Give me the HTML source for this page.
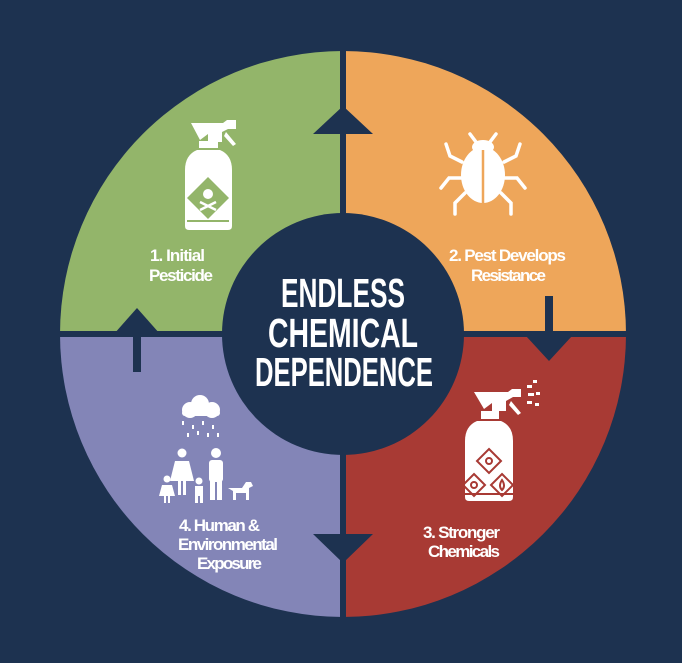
<!DOCTYPE html>
<html><head><meta charset="utf-8"><style>
html,body{margin:0;padding:0;background:#1d3250;}
svg{display:block}
text{font-family:"Liberation Sans Narrow","Liberation Sans",sans-serif;font-weight:bold;fill:#fff;}
</style></head><body>
<svg width="682" height="663" viewBox="0 0 682 663">
<rect width="682" height="663" fill="#1d3250"/>
<path d="M343 334 L343 51 A283 283 0 0 0 60 334 Z" fill="#93b56a"/>
<path d="M343 334 L626 334 A283 283 0 0 0 343 51 Z" fill="#eea65a"/>
<path d="M343 334 L343 617 A283 283 0 0 0 626 334 Z" fill="#a83a34"/>
<path d="M343 334 L60 334 A283 283 0 0 0 343 617 Z" fill="#8385b7"/>
<rect x="340" y="45" width="6" height="580" fill="#1d3250"/>
<rect x="55" y="331" width="575" height="6" fill="#1d3250"/>
<circle cx="343" cy="334" r="121" fill="#1d3250"/>
<polygon points="313,134 373,134 343,106" fill="#1d3250"/>
<polygon points="313,534 373,534 343,563" fill="#1d3250"/>
<polygon points="114,334 160,334 137,308" fill="#1d3250"/>
<rect x="133" y="334" width="8" height="38" fill="#1d3250"/>
<rect x="545" y="296" width="8" height="40" fill="#1d3250"/>
<polygon points="526,336 572,336 549,361" fill="#1d3250"/>
<text x="343" y="307" font-size="41" text-anchor="middle" textLength="124" lengthAdjust="spacingAndGlyphs">ENDLESS</text>
<text x="343" y="347" font-size="41" text-anchor="middle" textLength="150" lengthAdjust="spacingAndGlyphs">CHEMICAL</text>
<text x="344" y="386" font-size="41" text-anchor="middle" textLength="178" lengthAdjust="spacingAndGlyphs">DEPENDENCE</text>
<g font-size="17" lengthAdjust="spacingAndGlyphs">
<text x="150" y="261" textLength="55">1. Initial</text>
<text x="149" y="281" textLength="64">Pesticide</text>
<text x="449" y="261" textLength="117">2. Pest Develops</text>
<text x="471" y="281" textLength="75">Resistance</text>
<text x="423" y="538" textLength="77">3. Stronger</text>
<text x="428" y="557" textLength="72">Chemicals</text>
<text x="179" y="531" textLength="81">4. Human &amp;</text>
<text x="178" y="550" textLength="100">Environmental</text>
<text x="197" y="569" textLength="65">Exposure</text>
</g>
<g fill="#fff">
<path d="M191 123 h32 l4 -3 h9 v9 h-8 l-6 3 v10 h-14 v-8 l-8 6 z"/>
<path d="M226 132 l10 12 l-3 2 l-9 -10 z"/>
<rect x="199" y="141" width="19" height="7"/>
<path d="M197 150 h23 q12 5 12 20 v56 q0 4 -4 4 h-39 q-4 0 -4 -4 v-56 q0 -15 12 -20z"/>
</g>
<polygon points="208,177 229,198 208,219 187,198" fill="#93b56a"/>
<circle cx="208" cy="194" r="5" fill="#fff"/>
<path d="M200 202 l16 8 M216 202 l-16 8" stroke="#fff" stroke-width="2.5"/>
<rect x="187" y="220" width="42" height="2" fill="#93b56a"/>
<g fill="#fff" stroke="#fff">
<ellipse cx="483" cy="175" rx="22" ry="28" stroke="none"/>
<ellipse cx="483" cy="147" rx="11" ry="7" stroke="none"/>
<g stroke-width="3.5" fill="none" stroke-linecap="round">
<path d="M476 142 l-6 -8 M490 142 l6 -8"/>
<path d="M462 162 l-12 -6 l-4 -12 M504 162 l12 -6 l4 -12"/>
<path d="M461 178 h-12 l-8 10 M505 178 h12 l8 10"/>
<path d="M465 193 l-10 10 l0 11 M501 193 l10 10 l0 11"/>
</g>
</g>
<line x1="483" y1="150" x2="483" y2="203" stroke="#eea65a" stroke-width="2.5"/>
<g fill="#fff">
<path d="M474 392 h34 l4 -3 h9 v8 h-8 l-7 4 v10 h-14 v-8 l-8 6 z"/>
<path d="M511 401 l10 12 l-3 2 l-9 -10 z"/>
<rect x="481" y="411" width="18" height="8"/>
<path d="M479 421 h22 q12 5 12 20 v56 q0 4 -4 4 h-40 q-4 0 -4 -4 v-56 q0 -15 12 -20z"/>
<rect x="527" y="385" width="5" height="3"/><rect x="533" y="380" width="4" height="3"/><rect x="528" y="393" width="6" height="3"/><rect x="536" y="392" width="4" height="3"/><rect x="527" y="401" width="5" height="3"/><rect x="535" y="403" width="4" height="3"/>
</g>
<g fill="none" stroke="#a83a34" stroke-width="2">
<polygon points="489,449 501,461 489,473 477,461"/>
<polygon points="474,474 485,485 474,496 463,485"/>
<polygon points="502,474 513,485 502,496 491,485"/>
<circle cx="489" cy="461" r="3"/><circle cx="474" cy="485" r="3"/><path d="M502 490 q-4 -4 0 -10 q4 6 0 10z"/>
</g>
<rect x="465" y="493" width="48" height="2" fill="#a83a34"/>
<g fill="#fff">
<circle cx="190" cy="410" r="8"/><circle cx="200" cy="404" r="9"/><circle cx="212" cy="410" r="8"/><rect x="182" y="410" width="38" height="6" rx="3"/>
<rect x="182" y="421" width="2" height="4"/><rect x="192" y="425" width="2" height="4"/><rect x="202" y="421" width="2" height="4"/><rect x="212" y="425" width="2" height="4"/><rect x="197" y="431" width="2" height="4"/><rect x="207" y="433" width="2" height="4"/><rect x="187" y="433" width="2" height="4"/><rect x="217" y="433" width="2" height="4"/>
<circle cx="182" cy="453" r="4.5"/><path d="M175 461 h14 l5 20 h-8 v14 h-3 v-14 h-2 v14 h-3 v-14 h-8z"/>
<circle cx="216" cy="453" r="5"/><rect x="209" y="460" width="14" height="22" rx="3"/><rect x="210" y="480" width="5" height="20"/><rect x="217" y="480" width="5" height="20"/>
<circle cx="167" cy="479" r="3.5"/><path d="M162 485 h10 l3 11 h-5 v7 h-2 v-7 h-2 v7 h-2 v-7 h-5z"/>
<circle cx="199" cy="481" r="3.5"/><rect x="195" y="486" width="8" height="10"/><rect x="195" y="495" width="3" height="8"/><rect x="200" y="495" width="3" height="8"/>
<path d="M228 488 h14 l4 -6 h5 l2 4 l-4 2 v12 h-3 v-7 h-10 v7 h-3 v-9 z"/>
</g>
</svg>
</body></html>
